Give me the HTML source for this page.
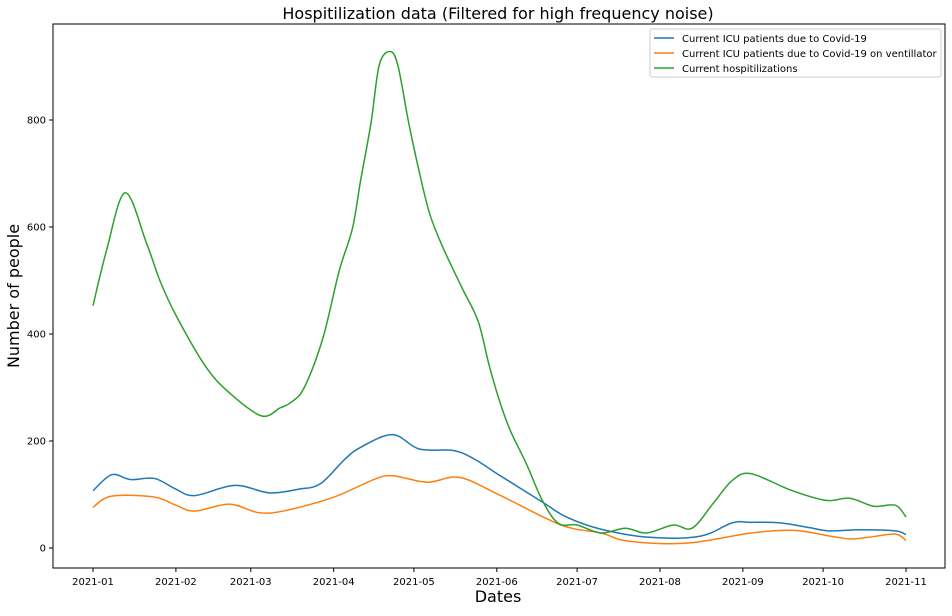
<!DOCTYPE html>
<html><head><meta charset="utf-8"><style>
body{margin:0;background:#fff;}
svg text{font-family:"DejaVu Sans","Liberation Sans",sans-serif;}
</style></head><body>
<svg id="chart" width="952" height="611" xmlns="http://www.w3.org/2000/svg">
<rect width="952" height="611" fill="#fff"/>
<text x="498" y="19" font-size="16" text-anchor="middle">Hospitilization data (Filtered for high frequency noise)</text>
<g id="plot"></g>
<rect x="53" y="24" width="892" height="544" fill="none" stroke="#000" stroke-width="1"/>
<text x="498" y="602" font-size="16" text-anchor="middle">Dates</text>
<text transform="translate(19,296) rotate(-90)" font-size="16" text-anchor="middle">Number of people</text>
<g>
<rect x="650" y="29" width="291" height="48" fill="#fff" stroke="#ccc" rx="2"/>
<line x1="654" y1="38" x2="674" y2="38" stroke="#1f77b4" stroke-width="1.5"/>
<text x="682" y="42" font-size="10">Current ICU patients due to Covid-19</text>
<line x1="654" y1="53" x2="674" y2="53" stroke="#ff7f0e" stroke-width="1.5"/>
<text x="682" y="57" font-size="10">Current ICU patients due to Covid-19 on ventillator</text>
<line x1="654" y1="68" x2="674" y2="68" stroke="#2ca02c" stroke-width="1.5"/>
<text x="682" y="72" font-size="10">Current hospitilizations</text>
</g>
</svg>
<script>
const xTickDays=[0,31,59,90,120,151,181,212,243,273,304];
const xTickLabels=["2021-01","2021-02","2021-03","2021-04","2021-05","2021-06","2021-07","2021-08","2021-09","2021-10","2021-11"];
const yTicks=[0,200,400,600,800];
const hospDays=[0,5,12,20,25,31,42,51,63,70,74,79,86,92,97,100,104,107,111,114,118,122,126,131,138,144,148,152,156,162,168,174,181,190,199,207,217,224,232,239,246,261,274,283,292,300,304];
const hospVals=[453,555,664,570,500,435,340,290,247,262,272,300,393,517,597,685,796,902,928,902,796,703,623,560,486,424,344,275,220,158,89,46,43,28,37,28,43,37,84,126,139,108,89,93,78,80,58];
const icuDays=[0,7,14,23,31,38,53,66,77,85,94,100,112,122,135,143,152,168,177,190,208,227,239,246,257,268,275,287,300,304];
const icuVals=[107,137,128,130,110,98,117,103,110,120,165,188,212,185,182,165,136,86,58,35,20,22,47,48,47,38,32,34,32,25];
const ventDays=[0,7,23,31,38,51,62,72,90,105,112,125,137,152,175,190,200,222,246,262,276,283,290,300,304];
const ventVals=[76,97,95,80,69,82,66,70,95,128,135,123,132,99,43,28,13,9,28,33,22,17,20,26,14];
const X=d=>93+d*(906-93)/304;
const Y=v=>548-v*(441-548)/-200;
const NS="http://www.w3.org/2000/svg";
const g=document.getElementById('plot');
function mk(t,a){const e=document.createElementNS(NS,t);for(const k in a)e.setAttribute(k,a[k]);g.appendChild(e);return e;}
xTickDays.forEach((d,i)=>{
 const l=mk('line',{x1:X(d),x2:X(d),y1:568,y2:572,stroke:'#000'});
 
 
 const t=mk('text',{x:X(d),y:585,'font-size':10,'text-anchor':'middle'});t.textContent=xTickLabels[i];
 
 
});
yTicks.forEach(v=>{
 const l=mk('line',{x1:49,x2:53,y1:Y(v),y2:Y(v),stroke:'#000'});
 
 
 const t=mk('text',{x:46,y:Y(v)+3.5,'font-size':10,'text-anchor':'end'});t.textContent=v;
 
 
});
function path(ds,vs){
 const p=ds.map((d,i)=>[X(d),Y(vs[i])]);
 let s='M'+p[0][0]+','+p[0][1];
 for(let i=0;i<p.length-1;i++){
  const p0=p[Math.max(0,i-1)],p1=p[i],p2=p[i+1],p3=p[Math.min(p.length-1,i+2)];
  const c1=[p1[0]+(p2[0]-p0[0])/6,p1[1]+(p2[1]-p0[1])/6];
  const c2=[p2[0]-(p3[0]-p1[0])/6,p2[1]-(p3[1]-p1[1])/6];
  s+=`C${c1[0]},${c1[1]} ${c2[0]},${c2[1]} ${p2[0]},${p2[1]}`;
 }
 return s;
}
const a=mk('path',{d:path(icuDays,icuVals),fill:'none',stroke:'#1f77b4','stroke-width':1.5});


const b=mk('path',{d:path(ventDays,ventVals),fill:'none',stroke:'#ff7f0e','stroke-width':1.5});


const c=mk('path',{d:path(hospDays,hospVals),fill:'none',stroke:'#2ca02c','stroke-width':1.5});


</script>
</body></html>
